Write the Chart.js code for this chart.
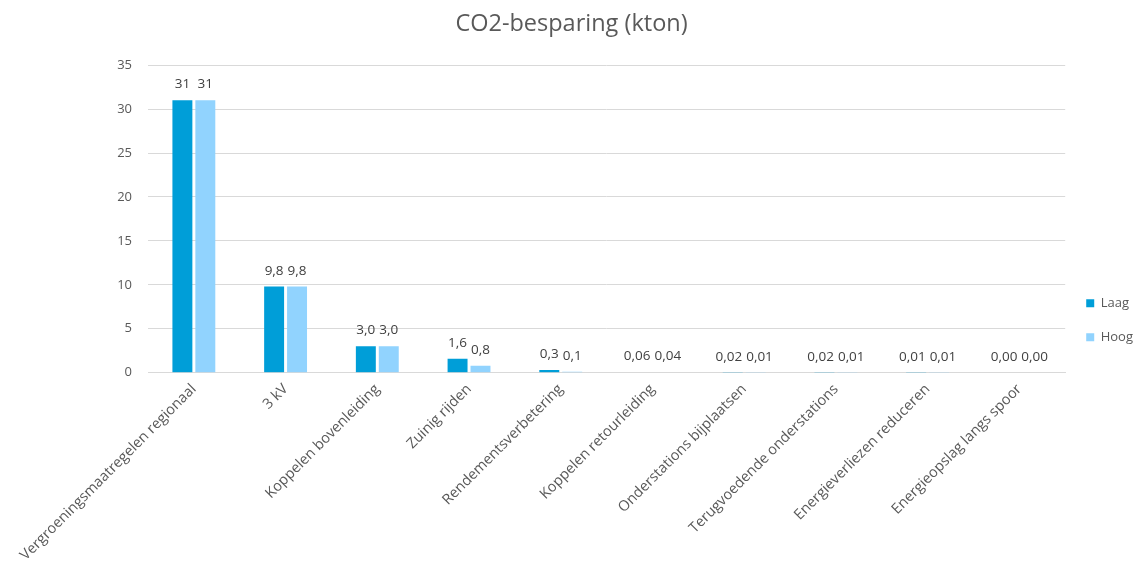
<!DOCTYPE html>
<html>
<head>
<meta charset="utf-8">
<title>CO2-besparing (kton)</title>
<script src="https://cdn.jsdelivr.net/npm/chart.js@4/dist/chart.umd.min.js"></script>
<style>
  body { margin: 0; background: #fff; }
  canvas { display: block; }
</style>
</head>
<body>
<canvas id="co2Chart" width="1148" height="572"></canvas>
<script>
// data
const categories = [
  'Vergroeningsmaatregelen regionaal',
  '3 kV',
  'Koppelen bovenleiding',
  'Zuinig rijden',
  'Rendementsverbetering',
  'Koppelen retourleiding',
  'Onderstations bijplaatsen',
  'Terugvoedende onderstations',
  'Energieverliezen reduceren',
  'Energieopslag langs spoor'
];
const laag = [31, 9.8, 3.0, 1.6, 0.3, 0.06, 0.02, 0.02, 0.01, 0.00];
const hoog = [31, 9.8, 3.0, 0.8, 0.1, 0.04, 0.01, 0.01, 0.01, 0.00];
const yTicks = [0, 5, 10, 15, 20, 25, 30, 35];

const grey = '#595959';
const fontFamily = '"Open Sans", Lato, sans-serif';

// Excel-like number labels with decimal comma
function fmt(v) {
  let s;
  if (v >= 20) s = v.toFixed(0);
  else if (v >= 0.1) s = v.toFixed(1);
  else s = v.toFixed(2);
  return s.replace('.', ',');
}

// value labels above the bars, pushed apart a little when they are wider than the bar slot
const valueLabels = {
  id: 'valueLabels',
  afterDatasetsDraw(chart) {
    const ctx = chart.ctx;
    ctx.save();
    ctx.font = '13.5px ' + fontFamily;
    ctx.fillStyle = '#404040';
    ctx.textAlign = 'center';
    ctx.textBaseline = 'bottom';
    const metaA = chart.getDatasetMeta(0).data;
    const metaB = chart.getDatasetMeta(1).data;
    chart.data.datasets.forEach((ds, i) => {
      chart.getDatasetMeta(i).data.forEach((bar, j) => {
        const txt = fmt(ds.data[j]);
        const slot = metaB[j].x - metaA[j].x;
        const w = ctx.measureText(txt).width;
        let dx = 0;
        if (w + 4 > slot) dx = (w + 4 - slot) / 2 * (i === 0 ? -1 : 1);
        ctx.fillText(txt, bar.x + dx, bar.y - 9);
      });
    });
    ctx.restore();
  }
};

new Chart(document.getElementById('co2Chart'), {
  type: 'bar',
  data: {
    labels: categories,
    datasets: [
      { label: 'Laag', data: laag, backgroundColor: '#009ed8' },
      { label: 'Hoog', data: hoog, backgroundColor: '#91d3fe' }
    ]
  },
  options: {
    responsive: false,
    animation: false,
    layout: { padding: { top: 8, left: 0, right: 5, bottom: 0 } },
    datasets: { bar: { categoryPercentage: 0.5, barPercentage: 0.87 } },
    scales: {
      x: {
        grid: { display: false, drawTicks: false },
        border: { color: '#d9d9d9' },
        ticks: {
          color: grey,
          font: { family: fontFamily, size: 14.5 },
          maxRotation: 45,
          minRotation: 45,
          padding: 8,
          autoSkip: false
        }
      },
      y: {
        min: 0,
        max: 35,
        afterBuildTicks(axis) { axis.ticks = yTicks.map(v => ({ value: v })); },
        afterFit(axis) { axis.width = 148; },
        grid: { color: '#d9d9d9', drawTicks: false },
        border: { display: false },
        ticks: {
          color: grey,
          font: { family: fontFamily, size: 13 },
          padding: 16
        }
      }
    },
    plugins: {
      title: {
        display: true,
        text: 'CO2-besparing (kton)',
        color: grey,
        font: { family: fontFamily, size: 23.5, weight: 'normal' },
        padding: { top: 2, bottom: 27 }
      },
      legend: {
        position: 'right',
        align: 'center',
        // empty title only pushes the two entries down to where the reference has them
        title: { display: true, text: '', padding: { top: 46, bottom: 0 } },
        labels: {
          color: grey,
          font: { family: fontFamily, size: 13 },
          boxWidth: 8,
          boxHeight: 8,
          padding: 21
        }
      },
      tooltip: { enabled: false }
    }
  },
  plugins: [valueLabels]
});
</script>
</body>
</html>
